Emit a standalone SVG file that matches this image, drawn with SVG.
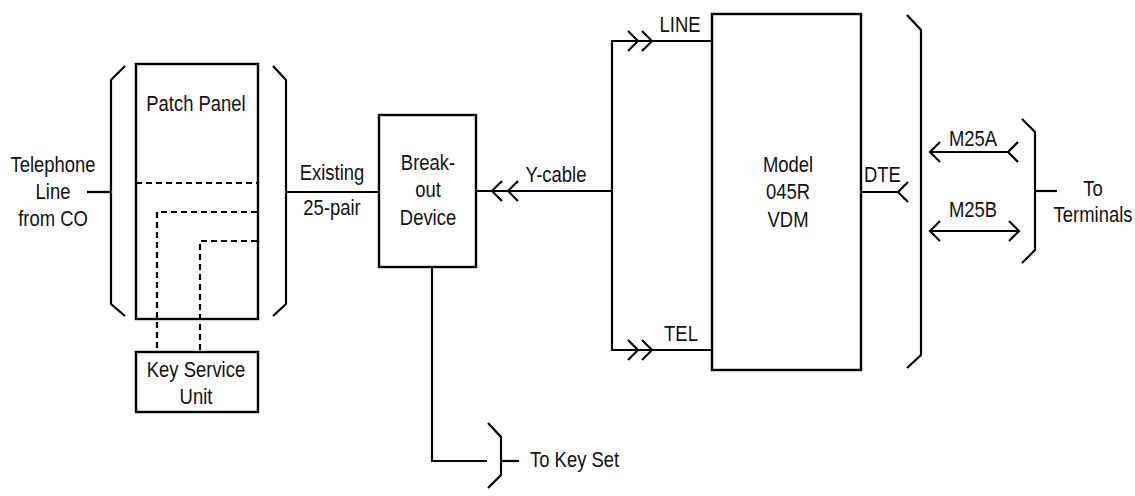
<svg xmlns="http://www.w3.org/2000/svg" xmlns:xlink="http://www.w3.org/1999/xlink" width="1135" height="496" viewBox="0 0 1135 496">
<style>
  .ln { fill: none; stroke: #000; stroke-width: 2.2; stroke-linecap: butt; stroke-linejoin: miter; }
  .box { fill: #fff; stroke: #000; stroke-width: 2.4; }
  .dash { fill: none; stroke: #000; stroke-width: 2.2; stroke-dasharray: 6 4; }
  text { font-family: "Liberation Sans", Arial, Helvetica, sans-serif; font-size: 22.5px; fill: #111; }
  .c { text-anchor: middle; }
</style>
<defs>
  <path id="chev" class="ln" d="M10,-10 L0,0 L10,10"/>
</defs>
<rect width="1135" height="496" fill="#fff"/>

<g id="connectors">
  <line class="ln" x1="87" y1="192" x2="111" y2="192"/>
  <line class="ln" x1="286" y1="192" x2="379" y2="192"/>
  <line class="ln" x1="476" y1="191" x2="613" y2="191"/>
  <use xlink:href="#chev" transform="translate(492,191)"/>
  <use xlink:href="#chev" transform="translate(508,191)"/>
  <polyline class="ln" points="712,41 612,41 612,350 712,350"/>
  <use xlink:href="#chev" transform="translate(638,41) scale(-1,1)"/>
  <use xlink:href="#chev" transform="translate(652,41) scale(-1,1)"/>
  <use xlink:href="#chev" transform="translate(638,350) scale(-1,1)"/>
  <use xlink:href="#chev" transform="translate(652,350) scale(-1,1)"/>
  <line class="ln" x1="861" y1="192" x2="898" y2="192"/>
  <use xlink:href="#chev" transform="translate(898,192)"/>
  <line class="ln" x1="930" y1="152" x2="1008" y2="152"/>
  <use xlink:href="#chev" transform="translate(930,152)"/>
  <use xlink:href="#chev" transform="translate(1008,152)"/>
  <line class="ln" x1="930" y1="231" x2="1019" y2="231"/>
  <use xlink:href="#chev" transform="translate(930,231)"/>
  <use xlink:href="#chev" transform="translate(1019,231) scale(-1,1)"/>
  <line class="ln" x1="1035" y1="191" x2="1057" y2="191"/>
  <polyline class="ln" points="432,267 432,461 487,461"/>
  <line class="ln" x1="501" y1="461" x2="519" y2="461"/>
  <line class="dash" x1="136" y1="183" x2="257" y2="183"/>
  <polyline class="dash" points="257,212 157,212 157,351"/>
  <polyline class="dash" points="257,241 200,241 200,351"/>
</g>

<g id="brackets">
  <polyline class="ln" points="125,66 111,80 111,304 125,316"/>
  <polyline class="ln" points="273,66 286,80 286,304 273,316"/>
  <polyline class="ln" points="907,15 921,30 921,355 907,368"/>
  <polyline class="ln" points="1022,119 1035,132 1035,250 1022,263"/>
  <polyline class="ln" points="488,423 501,437 501,475 488,488"/>
</g>

<g id="patch-panel">
  <rect class="box" x="136" y="64" width="122" height="255" style="fill:none"/>
  <text class="c" transform="translate(196,111) scale(0.82,1)">Patch Panel</text>
</g>

<g id="telephone-line">
  <text class="c" transform="translate(53,172) scale(0.82,1)">Telephone</text>
  <text class="c" transform="translate(53,199) scale(0.82,1)">Line</text>
  <text class="c" transform="translate(53,226) scale(0.82,1)">from CO</text>
</g>

<g id="key-service-unit">
  <rect class="box" x="136" y="352" width="122" height="60"/>
  <text class="c" transform="translate(196,377) scale(0.82,1)">Key Service</text>
  <text class="c" transform="translate(196,404) scale(0.82,1)">Unit</text>
</g>

<g id="existing-label">
  <text class="c" transform="translate(332,180) scale(0.82,1)">Existing</text>
  <text class="c" transform="translate(332,215) scale(0.82,1)">25-pair</text>
</g>

<g id="breakout-device">
  <rect class="box" x="379" y="115" width="97" height="152"/>
  <text class="c" transform="translate(428,170) scale(0.82,1)">Break-</text>
  <text class="c" transform="translate(428,197) scale(0.82,1)">out</text>
  <text class="c" transform="translate(428,225) scale(0.82,1)">Device</text>
</g>

<g id="y-cable-label">
  <text class="c" transform="translate(556,182) scale(0.82,1)">Y-cable</text>
</g>

<g id="vdm">
  <rect class="box" x="712" y="14" width="149" height="356"/>
  <text class="c" transform="translate(788,172) scale(0.82,1)">Model</text>
  <text class="c" transform="translate(788,199) scale(0.82,1)">045R</text>
  <text class="c" transform="translate(788,227) scale(0.82,1)">VDM</text>
</g>

<g id="port-labels">
  <text class="c" transform="translate(680,32) scale(0.82,1)">LINE</text>
  <text class="c" transform="translate(681,341) scale(0.82,1)">TEL</text>
  <text transform="translate(864,182) scale(0.82,1)">DTE</text>
  <text class="c" transform="translate(973,146) scale(0.82,1)">M25A</text>
  <text class="c" transform="translate(973,217) scale(0.82,1)">M25B</text>
</g>

<g id="to-terminals">
  <text class="c" transform="translate(1093,196) scale(0.82,1)">To</text>
  <text class="c" transform="translate(1093,222) scale(0.82,1)">Terminals</text>
</g>

<g id="to-key-set">
  <text transform="translate(530,467) scale(0.82,1)">To Key Set</text>
</g>
</svg>
